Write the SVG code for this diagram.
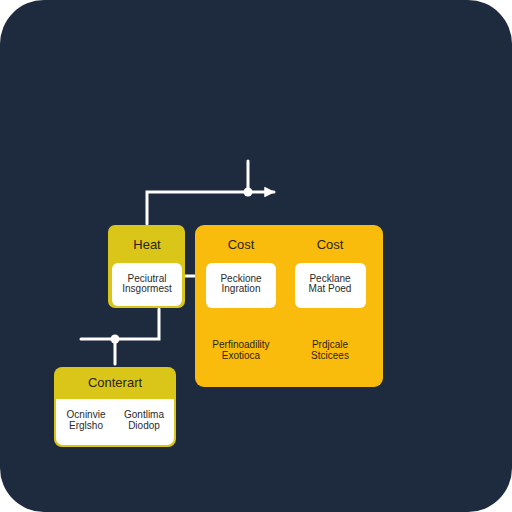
<svg xmlns="http://www.w3.org/2000/svg" width="512" height="512" viewBox="0 0 512 512">
<style>
.lbl{font-family:"Liberation Sans",Arial,sans-serif;font-size:13px;fill:#2a2410;text-anchor:middle}
.sm{font-family:"Liberation Sans",Arial,sans-serif;font-size:10px;fill:#2a2a2a;text-anchor:middle}
.smy{font-family:"Liberation Sans",Arial,sans-serif;font-size:10px;fill:#2e2408;text-anchor:middle}
.wire{stroke:#ffffff;stroke-width:3;fill:none;stroke-linecap:round}
.inner{fill:#ffffff}
</style>
<defs>
<marker id="arr" viewBox="0 0 10 10" refX="9" refY="5" markerWidth="3.6" markerHeight="3.6" orient="auto" markerUnits="strokeWidth">
<path d="M0,0 L10,5 L0,10 z" fill="#ffffff"/>
</marker>
</defs>
<rect x="0" y="0" width="512" height="512" fill="#ffffff"/>
<rect x="0" y="0" width="512" height="512" rx="44" fill="#1e2b3e"/>
<g id="connectors">
<path class="wire" d="M147,224 V192 H274" marker-end="url(#arr)"/>
<path class="wire" d="M248,161 V192"/>
<circle cx="248" cy="192" r="4.5" fill="#ffffff"/>
<path class="wire" d="M185,276 H195"/>
<path class="wire" d="M159,309 V339 H81"/>
<path class="wire" d="M115,339 V364"/>
<circle cx="115" cy="339" r="4.5" fill="#ffffff"/>
</g>
<g id="heat">
<rect x="108" y="225" width="77" height="83" rx="7" fill="#dac519"/>
<rect x="112" y="263" width="70" height="43" rx="6" class="inner"/>
<text class="lbl" x="147" y="249">Heat</text>
<text class="sm" x="147" y="282">Peciutral</text>
<text class="sm" x="147" y="292">Insgormest</text>
</g>
<g id="cost">
<rect x="195" y="225" width="188" height="162" rx="9" fill="#f9bc0d"/>
<text class="lbl" x="241" y="249">Cost</text>
<text class="lbl" x="330" y="249">Cost</text>
<rect x="206" y="263" width="70" height="45" rx="6" class="inner"/>
<rect x="295" y="263" width="71" height="45" rx="6" class="inner"/>
<text class="sm" x="241" y="282">Peckione</text>
<text class="sm" x="241" y="292">Ingration</text>
<text class="sm" x="330" y="282">Pecklane</text>
<text class="sm" x="330" y="292">Mat Poed</text>
<text class="smy" x="241" y="348">Perfinoadility</text>
<text class="smy" x="241" y="359">Exotioca</text>
<text class="smy" x="330" y="348">Prdjcale</text>
<text class="smy" x="330" y="359">Stcicees</text>
</g>
<g id="contorart">
<rect x="54" y="367" width="122" height="80" rx="8" fill="#dac519"/>
<path d="M56,399 H174 V438 a7,7 0 0 1 -7,7 H63 a7,7 0 0 1 -7,-7 Z" class="inner"/>
<text class="lbl" x="115" y="387">Conterart</text>
<text class="sm" x="86" y="418">Ocninvie</text>
<text class="sm" x="86" y="429">Erglsho</text>
<text class="sm" x="144" y="418">Gontlima</text>
<text class="sm" x="144" y="429">Diodop</text>
</g>
</svg>
